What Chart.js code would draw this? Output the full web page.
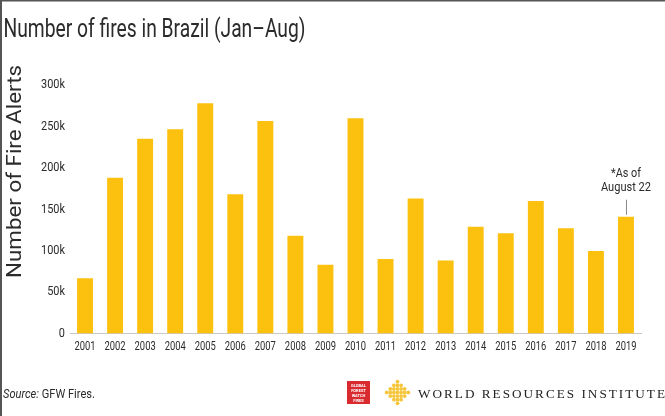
<!DOCTYPE html>
<html>
<head>
<meta charset="utf-8">
<script src="https://cdn.jsdelivr.net/npm/chart.js@4"></script>
<style>
  body { margin: 0; background: #fff; }
</style>
</head>
<body>
<canvas id="firechart" width="665" height="416"></canvas>
<script>
const years = ['2001', '2002', '2003', '2004', '2005', '2006', '2007', '2008', '2009', '2010',
               '2011', '2012', '2013', '2014', '2015', '2016', '2017', '2018', '2019']
const fireAlerts = [66600, 188000, 235000, 246500, 278000, 168000, 256500, 118000, 83000, 260000,
                    90000, 163000, 88000, 129000, 121000, 160000, 127000, 99600, 141000]
const yTicks = [0, 50000, 100000, 150000, 200000, 250000, 300000]
const chartTitle = 'Number of fires in Brazil (Jan\u2013Aug)'
const yTitle = 'Number of Fire Alerts'
const noteLines = ['*As of', 'August 22']

const sans = "Roboto, 'DejaVu Sans', sans-serif"
const textColor = '#2b2b2b'

// the original uses a condensed face, so squeeze Roboto sideways
function squeeze(ctx, text, x, y, sx)
{
  ctx.save()
  ctx.translate(x, y)
  ctx.scale(sx, 1)
  ctx.fillText(text, 0, 0)
  ctx.restore()
}

function fitText(ctx, text, x, y, width)
{
  squeeze(ctx, text, x, y, width / ctx.measureText(text).width)
}

function yLabel(v)
{
  return v === 0 ? '0' : (v / 1000) + 'k'
}

const extras = {
  id: 'extras',
  afterDraw(chart) {
    const ctx = chart.ctx
    const xs = chart.scales.x
    const ys = chart.scales.y
    ctx.save()
    ctx.fillStyle = textColor

    // title
    ctx.font = '26px ' + sans
    ctx.textAlign = 'left'
    ctx.textBaseline = 'alphabetic'
    fitText(ctx, chartTitle, 3.5, 37, 302)

    // y axis title
    ctx.font = '21px ' + sans
    ctx.textAlign = 'center'
    ctx.textBaseline = 'middle'
    ctx.save()
    ctx.translate(16, 171.5)
    ctx.rotate(-Math.PI / 2)
    fitText(ctx, yTitle, 0, 0, 213)
    ctx.restore()

    // tick labels, placed by the scales
    ctx.font = '12px ' + sans
    ctx.textAlign = 'center'
    ctx.textBaseline = 'alphabetic'
    years.forEach((y, i) => squeeze(ctx, y, xs.getPixelForValue(i), 349.5, 0.78))

    ctx.font = '13px ' + sans
    ctx.textAlign = 'right'
    ctx.textBaseline = 'middle'
    yTicks.forEach(v => squeeze(ctx, yLabel(v), 65, ys.getPixelForValue(v), 0.84))

    // note above the last bar
    const last = fireAlerts.length - 1
    const bx = xs.getPixelForValue(last)
    const by = ys.getPixelForValue(fireAlerts[last])
    ctx.strokeStyle = '#888'
    ctx.lineWidth = 1
    ctx.beginPath()
    ctx.moveTo(bx + 0.5, by - 2)
    ctx.lineTo(bx + 0.5, by - 17)
    ctx.stroke()
    ctx.font = '13px ' + sans
    ctx.textAlign = 'center'
    ctx.textBaseline = 'alphabetic'
    fitText(ctx, noteLines[0], bx, by - 40, 30)
    fitText(ctx, noteLines[1], bx, by - 26, 50)

    // source
    ctx.textAlign = 'left'
    ctx.font = 'italic 13px ' + sans
    const s1 = 'Source:'
    const s2 = ' GFW Fires.'
    const w1 = ctx.measureText(s1).width
    ctx.font = '13px ' + sans
    const w2 = ctx.measureText(s2).width
    const k = 92 / (w1 + w2)
    ctx.font = 'italic 13px ' + sans
    squeeze(ctx, s1, 3, 398, k)
    ctx.font = '13px ' + sans
    squeeze(ctx, s2, 3 + w1 * k, 398, k)

    // GFW fires badge
    ctx.fillStyle = '#d92a2f'
    ctx.fillRect(347, 381, 23, 23)
    ctx.fillStyle = '#fff'
    ctx.font = 'bold 4px ' + sans
    ctx.textAlign = 'center'
    const badge = ['GLOBAL', 'FOREST', 'WATCH', 'FIRES']
    badge.forEach((t, i) => ctx.fillText(t, 358.5, 387 + i * 5))

    // WRI flower
    ctx.fillStyle = '#f5c63c'
    for (let i = -3; i <= 3; i++) {
      for (let j = -3; j <= 3; j++) {
        if (Math.abs(i) + Math.abs(j) > 3) continue
        ctx.beginPath()
        ctx.arc(397.5 + i * 3.6, 392.5 + j * 3.6, 1.9, 0, Math.PI * 2)
        ctx.fill()
      }
    }

    // WRI name
    ctx.fillStyle = '#222'
    ctx.textAlign = 'left'
    ctx.font = '13px "Liberation Serif", "DejaVu Serif", serif'
    ctx.letterSpacing = '2px'
    fitText(ctx, 'WORLD RESOURCES INSTITUTE', 418, 397.5, 249)
    ctx.letterSpacing = '0px'

    // frame
    ctx.fillStyle = '#555'
    ctx.fillRect(0, 0, 665, 1.5)
    ctx.fillRect(0, 0, 2, 416)
    ctx.restore()
  }
}

const ctx = document.getElementById('firechart')

new Chart(ctx, {
  type: 'bar',
  data: {
    labels: years,
    datasets: [{
      label: 'Fire alerts',
      data: fireAlerts,
      backgroundColor: '#fcc10f',
      borderWidth: 0,
      barPercentage: 0.53,
      categoryPercentage: 1
    }]
  },
  options: {
    responsive: false,
    animation: false,
    layout: {
      padding: { left: 4, right: 24, top: 85, bottom: 0 }
    },
    plugins: {
      legend: { display: false },
      tooltip: { enabled: false }
    },
    scales: {
      x: {
        grid: { display: false, drawTicks: false },
        border: { display: true, color: '#c8c8c8', dash: [1, 2] },
        ticks: { display: false },
        afterFit(scale) { scale.height = 82.5 }
      },
      y: {
        min: 0,
        max: 300000,
        grid: { display: false, drawTicks: false },
        border: { display: false },
        ticks: { display: false },
        afterFit(scale) { scale.width = 66 }
      }
    }
  },
  plugins: [extras]
})
</script>
</body>
</html>
